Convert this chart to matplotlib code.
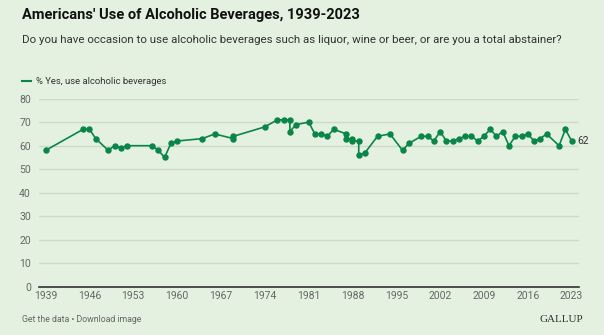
import matplotlib as mpl
import matplotlib.pyplot as plt

years = [1939, 1945, 1946, 1947, 1949, 1950, 1951, 1952, 1956, 1957,
         1958, 1959, 1960, 1964, 1966, 1969, 1969, 1974, 1976, 1977,
         1978, 1978, 1979, 1981, 1982, 1983, 1984, 1985, 1987, 1987,
         1988, 1988, 1989, 1989, 1990, 1992, 1994, 1996, 1997, 1999,
         2000, 2001, 2002, 2003, 2004, 2005, 2006, 2007, 2008, 2009,
         2010, 2011, 2012, 2013, 2014, 2015, 2016, 2017, 2018, 2019,
         2021, 2022, 2023]
pct_yes = [58, 67, 67, 63, 58, 60, 59, 60, 60, 58,
           55, 61, 62, 63, 65, 63, 64, 68, 71, 71,
           71, 66, 69, 70, 65, 65, 64, 67, 65, 63,
           63, 62, 62, 56, 57, 64, 65, 58, 61, 64,
           64, 62, 66, 62, 62, 63, 64, 64, 62, 64,
           67, 64, 66, 60, 64, 64, 65, 62, 63, 65,
           60, 67, 62]
x_ticks = list(range(1939, 2024, 7))
y_ticks = list(range(0, 81, 10))

bg = '#e4f1e0'
green = '#0a8548'
grey = '#666666'

mpl.rcParams['font.family'] = ['Roboto', 'DejaVu Sans']

fig = plt.figure(figsize=(6.04, 3.35), dpi=100, facecolor=bg)
ax = fig.add_axes([0.065, 0.1442, 0.893, 0.5612], facecolor=bg)

ax.plot(years, pct_yes, color=green, lw=1.2, marker='o', markersize=3.6,
        clip_on=False, zorder=3)
ax.text(years[-1] + 0.9, pct_yes[-1], str(pct_yes[-1]), color='#333333',
        fontsize=7.5, va='center', ha='left')

ax.set_xlim(1937.98, 2024.12)
ax.set_ylim(0, 80)
ax.set_xticks(x_ticks)
ax.set_yticks(y_ticks)
ax.grid(axis='y', color='#cddac8', lw=1)
ax.set_axisbelow(True)
for s in ['top', 'right', 'left']:
    ax.spines[s].set_visible(False)
ax.spines['bottom'].set_color('#333333')
ax.spines['bottom'].set_linewidth(1.2)
ax.tick_params(axis='both', length=0, labelsize=7.5, labelcolor=grey)
ax.tick_params(axis='x', pad=3)
ax.tick_params(axis='y', pad=6)

fig.text(0.036, 0.955, "Americans' Use of Alcoholic Beverages, 1939-2023",
         fontsize=10.5, fontweight='bold', color='#111111', va='center')
fig.text(0.036, 0.882, "Do you have occasion to use alcoholic beverages such as liquor, "
         "wine or beer, or are you a total abstainer?",
         fontsize=8.25, color='#333333', va='center')
fig.add_artist(plt.Line2D([0.036, 0.052], [0.757, 0.757], color=green, lw=1.5))
fig.text(0.059, 0.757, '% Yes, use alcoholic beverages', fontsize=6.8,
         color='#333333', va='center')
fig.text(0.036, 0.045, 'Get the data \u2022 Download image', fontsize=6.3,
         color=grey, va='center')
fig.text(0.966, 0.045, 'GALLUP', fontsize=8, color='#333333', va='center',
         ha='right', family=['Liberation Serif', 'DejaVu Serif'])

fig.savefig('out.png', dpi=100, facecolor=bg)
